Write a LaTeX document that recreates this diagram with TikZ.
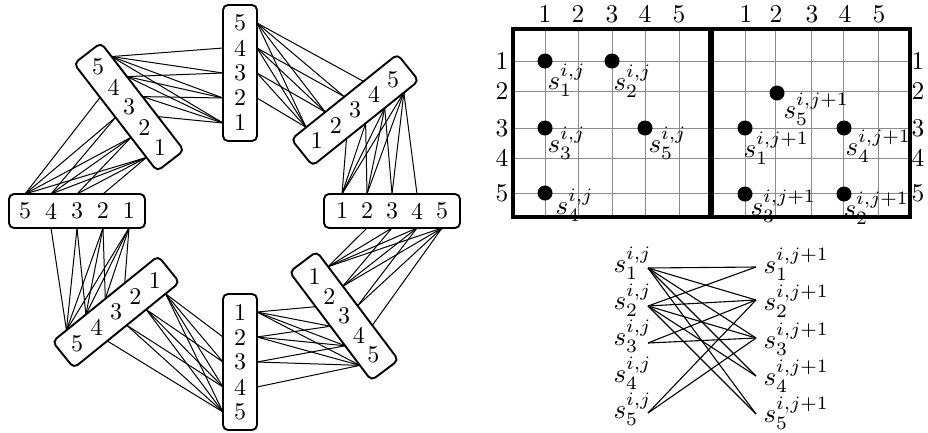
\documentclass[tikz,border=0pt]{standalone}
\usetikzlibrary{calc}
\tikzset{
  cellbox/.style={draw, line width=1.9pt, rounded corners=5pt, minimum width=136pt, minimum height=34pt, inner sep=0pt, outer sep=0pt},
  digit/.style={scale=2.4, inner sep=0pt},
  link/.style={line width=1pt},
  gridlab/.style={scale=2.55, inner sep=0pt},
  mlab/.style={scale=2.7, inner sep=0pt, anchor=base west},
  gdot/.style={circle, fill=black, minimum size=15pt, inner sep=0pt},
  frame/.style={line width=3.2pt},
  thingrid/.style={black!45, line width=1pt},
  bip/.style={line width=1.1pt},
}
\newcommand{\mkcellbox}[5]{%
  \node[cellbox, rotate=#4] (#1) at (#2,#3) {};
  \foreach \k in {1,...,5}{%
    \pgfmathsetmacro\cpos{0.5+(\k-3)*#5/136}
    \node[digit] (#1-\k) at ($(#1.west)!\cpos!(#1.east)$) {\k};
    \coordinate (#1-n\k) at ($(#1.north west)!\cpos!(#1.north east)$);
    \coordinate (#1-s\k) at ($(#1.south west)!\cpos!(#1.south east)$);
  }%
}
\newcommand{\linkboxes}[2]{%
  \foreach \a in {2,...,5}{%
    \pgfmathtruncatemacro\bmax{\a-1}
    \foreach \b in {1,...,\bmax}{\draw[link] (#1-s\a) -- (#2-n\b);}
  }%
}
\begin{document}
\begin{tikzpicture}[x=1pt,y=-1pt]
\useasboundingbox (0,0) rectangle (928,432);

% ---------- octagon of cell boxes ----------
\mkcellbox{T}{240}{73}{90}{25}
\mkcellbox{TR}{355}{110}{38.7}{24.5}
\mkcellbox{R}{392}{211}{0}{25}
\mkcellbox{BR}{344}{316}{-53}{24.5}
\mkcellbox{B}{240}{362}{-90}{25}
\mkcellbox{BL}{116}{312}{219}{25}
\mkcellbox{L}{77}{211}{180}{26}
\mkcellbox{TL}{129}{107}{127.7}{25.3}

\linkboxes{T}{TR}
\linkboxes{TR}{R}
\linkboxes{R}{BR}
\linkboxes{BR}{B}
\linkboxes{B}{BL}
\linkboxes{BL}{L}
\linkboxes{L}{TL}
\linkboxes{TL}{T}

% ---------- grids ----------
\foreach \x in {545,578,612,645,679,745,775,811,843,878}
  \draw[thingrid] (\x,29) -- (\x,217);
\foreach \y in {61,91,128,158,193}{
  \draw[thingrid] (513,\y) -- (710,\y);
  \draw[thingrid] (712,\y) -- (910,\y);
}
\draw[frame] (513,29) rectangle (710,217);
\draw[frame] (712,29) rectangle (910,217);

\foreach \x/\n in {545/1,578/2,612/3,645/4,679/5}
  \node[gridlab] (ctl\n) at (\x,14) {\n};
\foreach \x/\n in {746/1,776/2,812/3,845/4,879/5}
  \node[gridlab] (ctr\n) at (\x,14) {\n};
\foreach \y/\n in {61/1,91/2,128/3,158/4,193/5}{
  \node[gridlab] (rl\n) at (502,\y) {\n};
  \node[gridlab] (rr\n) at (918,\y) {\n};
}

% dots, left grid
\node[gdot] (a1) at (545,61) {};
\node[gdot] (a2) at (612,61) {};
\node[gdot] (a3) at (545,128) {};
\node[gdot] (a5) at (645,128) {};
\node[gdot] (a4) at (545,193) {};
\node[mlab] (la1) at (547,89) {$s_1^{i,j}$};
\node[mlab] (la2) at (613,90) {$s_2^{i,j}$};
\node[mlab] (la3) at (547,152) {$s_3^{i,j}$};
\node[mlab] (la5) at (648,152) {$s_5^{i,j}$};
\node[mlab] (la4) at (555,214) {$s_4^{i,j}$};

% dots, right grid
\node[gdot] (b5) at (777,93) {};
\node[gdot] (b1) at (745,128) {};
\node[gdot] (b4) at (844,128) {};
\node[gdot] (b3) at (745,194) {};
\node[gdot] (b2) at (844,194) {};
\node[mlab] (lb5) at (783,118) {$s_5^{i,j+1}$};
\node[mlab] (lb1) at (743,157) {$s_1^{i,j+1}$};
\node[mlab] (lb4) at (845,155) {$s_4^{i,j+1}$};
\node[mlab] (lb3) at (750,215) {$s_3^{i,j+1}$};
\node[mlab] (lb2) at (843,217) {$s_2^{i,j+1}$};

% ---------- bipartite graph ----------
\foreach \n/\y in {1/272,2/309,3/345,4/382,5/418}
  \node[mlab] (pl\n) at (613,\y) {$s_\n^{i,j}$};
\foreach \n/\y in {1/273,2/310,3/348,4/385,5/422}
  \node[mlab] (pr\n) at (763,\y) {$s_\n^{i,j+1}$};
\foreach \n/\y in {1/268,2/306,3/343,4/380,5/413}
  \coordinate (ql\n) at (648,\y);
\foreach \n/\y in {1/267,2/300,3/338,4/376,5/414}
  \coordinate (qr\n) at (756,\y);
\foreach \a/\b in {1/1,1/2,1/3,1/4,1/5,2/1,2/2,2/3,2/4,2/5,3/2,3/3,5/2,5/3}
  \draw[bip] (ql\a) -- (qr\b);
\end{tikzpicture}
\end{document}
